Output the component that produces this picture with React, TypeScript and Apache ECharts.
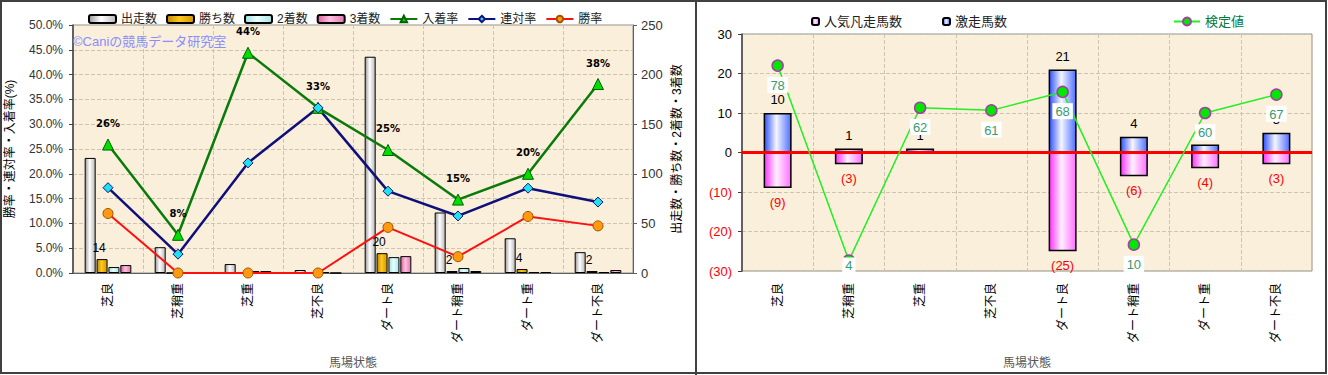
import React, { useEffect, useRef } from "react";
import * as echarts from "echarts";

const categories = ["芝良", "芝稍重", "芝重", "芝不良", "ダート良", "ダート稍重", "ダート重", "ダート不良"];

// left chart (counts, right axis)
const starts = [116, 26, 9, 3, 218, 61, 35, 21];
const wins = [14, 0, 0, 0, 20, 2, 4, 2];
const seconds = [6, 1, 2, 1, 16, 5, 1, 1];
const thirds = [8, 1, 2, 0, 17, 2, 1, 3];
// left chart (rates %, left axis)
const placeRate = [25.9, 7.7, 44.4, 33.3, 24.8, 14.8, 20.0, 38.1];
const quinellaRate = [17.2, 3.8, 22.2, 33.3, 16.5, 11.5, 17.1, 14.3];
const winRate = [12.0, 0, 0, 0, 9.2, 3.3, 11.4, 9.5];

const leftTicksPct = [0, 50, 5];
const rightTicksCount = [0, 250, 50];

// right chart
const upsetCounts = [10, 1, 1, 0, 21, 4, 2, 5]; // 激走馬数
const flopCounts = [9, 3, 0, 0, 25, 6, 4, 3]; // 人気凡走馬数 (drawn negative)
const testValues = [78, 4, 62, 61, 68, 10, 60, 67]; // 検定値
const rightTicks = [-30, 30, 10];
const testAxis = [0, 90];

const FONT = "'Liberation Sans', 'Noto Sans CJK JP', sans-serif";
const PARCH = "#f9efda";

const cyl = (a: string, b: string, c: string) =>
  new echarts.graphic.LinearGradient(0, 0, 1, 0, [
    { offset: 0, color: a },
    { offset: 0.45, color: b },
    { offset: 1, color: c },
  ]);

export default function App() {
  const ref = useRef<HTMLDivElement>(null);
  useEffect(() => {
    document.body.style.margin = "0";
    const chart = echarts.init(ref.current!, null, { renderer: "svg" });
    const zeroToDash = (arr: number[]) => arr.map((v) => (v === 0 ? "-" : v));
    const option: any = {
      animation: false,
      textStyle: { fontFamily: FONT },
      graphic: [
        {
          type: "rect",
          shape: { x: 1, y: 1, width: 1325, height: 372 },
          style: { fill: "none", stroke: "#404040", lineWidth: 2 },
          z: 100,
        },
        {
          type: "line",
          shape: { x1: 696, y1: 0, x2: 696, y2: 375 },
          style: { stroke: "#404040", lineWidth: 2 },
          z: 100,
        },
        {
          type: "text",
          x: 73,
          y: 35,
          style: { text: "©Caniの競馬データ研究室", fill: "#8c8cff", fontSize: 13, fontFamily: FONT },
          z: 50,
        },
      ],
      legend: [
        {
          left: 83,
          top: 8,
          itemWidth: 27,
          itemHeight: 8,
          itemGap: 9,
          textStyle: { fontSize: 12, color: "#222" },
          data: ["出走数", "勝ち数", "2着数", "3着数", "入着率", "連対率", "勝率"],
        },
        {
          left: 806,
          top: 10,
          itemWidth: 7,
          itemHeight: 7,
          itemGap: 40,
          textStyle: { fontSize: 13, color: "#222" },
          data: ["人気凡走馬数", "激走馬数"],
        },
        {
          left: 1168,
          top: 10,
          itemWidth: 26,
          itemHeight: 10,
          textStyle: { fontSize: 13, color: "#007a40" },
          data: ["検定値"],
        },
      ],
      grid: [
        {
          left: 73,
          top: 25,
          width: 560,
          height: 248,
          show: true,
          backgroundColor: PARCH,
          borderColor: "#909090",
          borderWidth: 1,
        },
        {
          left: 742,
          top: 34,
          width: 570,
          height: 237,
          show: true,
          backgroundColor: PARCH,
          borderColor: "#909090",
          borderWidth: 1,
        },
      ],
      xAxis: [
        {
          type: "category",
          gridIndex: 0,
          data: categories,
          axisLine: { lineStyle: { color: "#606060" } },
          axisTick: { show: false },
          axisLabel: { rotate: 90, fontSize: 12, color: "#000", margin: 10 },
          splitLine: { show: true, lineStyle: { color: "#cdc4b2", type: "dashed" } },
          name: "馬場状態",
          nameLocation: "middle",
          nameGap: 84,
          nameTextStyle: { fontSize: 12, color: "#555" },
        },
        {
          type: "category",
          gridIndex: 1,
          data: categories,
          axisLine: { lineStyle: { color: "#909090" } },
          axisTick: { show: false },
          axisLabel: { rotate: 90, fontSize: 12, color: "#000", margin: 12 },
          splitLine: { show: true, lineStyle: { color: "#cdc4b2", type: "dashed" } },
          name: "馬場状態",
          nameLocation: "middle",
          nameGap: 86,
          nameTextStyle: { fontSize: 12, color: "#555" },
        },
      ],
      yAxis: [
        {
          type: "value",
          gridIndex: 0,
          min: leftTicksPct[0],
          max: leftTicksPct[1],
          interval: leftTicksPct[2],
          axisLine: { show: true, lineStyle: { color: "#404040", width: 1.5 } },
          axisTick: { show: true, length: 4 },
          axisLabel: { formatter: (v: number) => v.toFixed(1) + "%", fontSize: 12, color: "#333", margin: 10 },
          splitLine: { show: true, lineStyle: { color: "#cdc4b2", type: "dashed" } },
          name: "勝率・連対率・入着率(%)",
          nameLocation: "middle",
          nameGap: 57,
          nameTextStyle: { fontSize: 12, color: "#000" },
        },
        {
          type: "value",
          gridIndex: 0,
          position: "right",
          min: rightTicksCount[0],
          max: rightTicksCount[1],
          interval: rightTicksCount[2],
          axisLine: { show: true, lineStyle: { color: "#606060" } },
          axisTick: { show: true, length: 4 },
          axisLabel: { fontSize: 13, color: "#333", margin: 8 },
          splitLine: { show: false },
          name: "出走数・勝ち数・2着数・3着数",
          nameLocation: "middle",
          nameRotate: 90,
          nameGap: 38,
          nameTextStyle: { fontSize: 12, color: "#000" },
        },
        {
          type: "value",
          gridIndex: 1,
          min: rightTicks[0],
          max: rightTicks[1],
          interval: rightTicks[2],
          axisLine: { show: true, lineStyle: { color: "#404040", width: 1.5 } },
          axisTick: { show: true, length: 4 },
          axisLabel: {
            fontSize: 13,
            margin: 10,
            formatter: (v: number) => (v < 0 ? "(" + -v + ")" : String(v)),
            color: (v: any) => (Number(v) < 0 ? "#ff0000" : "#000"),
          },
          splitLine: { show: true, lineStyle: { color: "#cdc4b2", type: "dashed" } },
        },
        {
          type: "value",
          gridIndex: 1,
          min: testAxis[0],
          max: testAxis[1],
          show: false,
          splitLine: { show: false },
        },
      ],
      series: [
        {
          name: "出走数",
          type: "bar",
          xAxisIndex: 0,
          yAxisIndex: 1,
          data: starts,
          barWidth: 11,
          barGap: "8%",
          itemStyle: { color: cyl("#9a9a9a", "#ffffff", "#b8b8b8"), borderColor: "#000", borderWidth: 1 },
        },
        {
          name: "勝ち数",
          type: "bar",
          xAxisIndex: 0,
          yAxisIndex: 1,
          data: wins,
          barWidth: 11,
          itemStyle: { color: cyl("#c08a00", "#ffc820", "#d09800"), borderColor: "#000", borderWidth: 1 },
          label: {
            show: true,
            position: "top",
            fontSize: 12,
            color: "#000",
            offset: [-3, 0],
            formatter: (p: any) => (p.value > 0 ? String(p.value) : ""),
          },
        },
        {
          name: "2着数",
          type: "bar",
          xAxisIndex: 0,
          yAxisIndex: 1,
          data: seconds,
          barWidth: 11,
          itemStyle: { color: cyl("#9fdede", "#e8ffff", "#a8e4e4"), borderColor: "#000", borderWidth: 1 },
        },
        {
          name: "3着数",
          type: "bar",
          xAxisIndex: 0,
          yAxisIndex: 1,
          data: thirds,
          barWidth: 11,
          itemStyle: { color: cyl("#d8609c", "#ffc0e0", "#e078b0"), borderColor: "#000", borderWidth: 1 },
        },
        {
          name: "入着率",
          type: "line",
          xAxisIndex: 0,
          yAxisIndex: 0,
          data: placeRate,
          z: 4,
          symbol: "triangle",
          symbolSize: 11,
          lineStyle: { color: "#0a7a0a", width: 2.5 },
          itemStyle: { color: "#00e000", borderColor: "#006000", borderWidth: 1 },
          label: {
            show: true,
            position: "top",
            distance: 10,
            fontSize: 10,
            fontWeight: "bold",
            color: "#000",
            fontFamily: "'DejaVu Sans', sans-serif",
            formatter: (p: any) => Math.round(p.value) + "%",
          },
        },
        {
          name: "連対率",
          type: "line",
          xAxisIndex: 0,
          yAxisIndex: 0,
          data: quinellaRate,
          z: 4,
          symbol: "diamond",
          symbolSize: 10,
          lineStyle: { color: "#10107a", width: 2.5 },
          itemStyle: { color: "#20e0f0", borderColor: "#10107a", borderWidth: 1 },
        },
        {
          name: "勝率",
          type: "line",
          xAxisIndex: 0,
          yAxisIndex: 0,
          data: winRate,
          z: 4,
          symbol: "circle",
          symbolSize: 10,
          lineStyle: { color: "#ff1010", width: 2 },
          itemStyle: { color: "#ff9a10", borderColor: "#a05000", borderWidth: 1 },
        },
        {
          name: "人気凡走馬数",
          type: "bar",
          xAxisIndex: 1,
          yAxisIndex: 2,
          stack: "r",
          barWidth: 28,
          data: zeroToDash(flopCounts.map((v) => -v)),
          itemStyle: { color: cyl("#ff30ff", "#fff0ff", "#ff70ff"), borderColor: "#000", borderWidth: 1.5 },
          label: {
            show: true,
            position: "bottom",
            distance: 8,
            fontSize: 13,
            color: "#ff0000",
            formatter: (p: any) => "(" + -p.value + ")",
          },
        },
        {
          name: "激走馬数",
          type: "bar",
          xAxisIndex: 1,
          yAxisIndex: 2,
          stack: "r",
          barWidth: 28,
          data: zeroToDash(upsetCounts),
          itemStyle: { color: cyl("#3050ff", "#f4f6ff", "#5070ff"), borderColor: "#000", borderWidth: 1.5 },
          label: {
            show: true,
            position: "top",
            distance: 7,
            fontSize: 13,
            color: "#000",
          },
          markLine: {
            silent: true,
            symbol: "none",
            label: { show: false },
            lineStyle: { color: "#ff0000", width: 3, type: "solid" },
            data: [{ yAxis: 0 }],
          },
        },
        {
          name: "検定値",
          type: "line",
          xAxisIndex: 1,
          yAxisIndex: 3,
          z: 6,
          data: testValues.map((v, i) =>
            i === 1 ? { value: v, label: { position: "inside", offset: [0, 5] } } : v
          ),
          symbol: "circle",
          symbolSize: 11,
          lineStyle: { color: "#20f020", width: 1.5 },
          itemStyle: { color: "#00e800", borderColor: "#a040a0", borderWidth: 1.5 },
          label: {
            show: true,
            position: "bottom",
            distance: 5,
            fontSize: 13,
            color: "#3a9a70",
            backgroundColor: "#ffffff",
            padding: [2, 3, 1, 3],
          },
        },
      ],
    };
    chart.setOption(option);
    return () => chart.dispose();
  }, []);
  return (
    <div style={{ position: "absolute", left: 0, top: 0, width: 1328, height: 375, background: "#fff" }}>
      <div ref={ref} style={{ width: 1328, height: 375 }} />
    </div>
  );
}
